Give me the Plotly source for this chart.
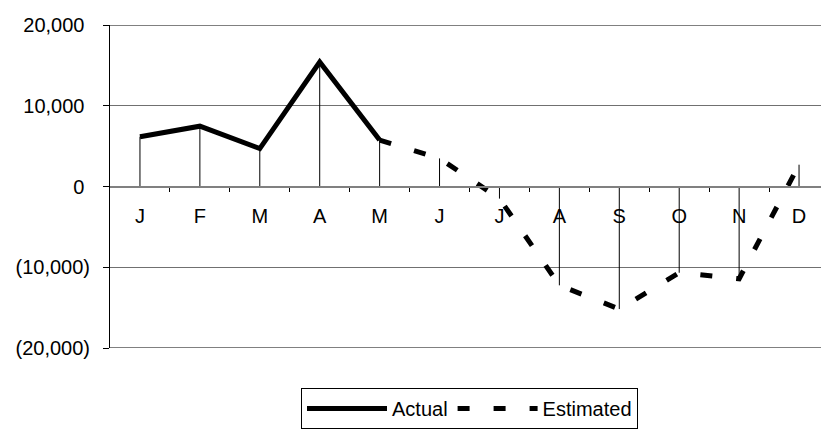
import plotly.graph_objects as go

months = ["J", "F", "M", "A", "M", "J", "J", "A", "S", "O", "N", "D"]
actual = [6170, 7470, 4700, 15420, 5750, None, None, None, None, None, None, None]
estimated = [None, None, None, None, 5750, 3480, -1500, -12240, -15180, -10680, -11420, 2700]
drops = [6170, 7470, 4700, 15420, 5750, 3480, -1500, -12240, -15180, -10680, -11420, 2700]
ytick_vals = [20000, 10000, 0, -10000, -20000]
ytick_text = ["20,000\u00a0", "10,000\u00a0", "0\u00a0", "(10,000)", "(20,000)"]

idx = list(range(len(months)))

# drop lines from each point down/up to zero
dx, dy = [], []
for i, v in zip(idx, drops):
    dx += [i, i, None]
    dy += [0, v, None]

fig = go.Figure()
fig.add_trace(go.Scatter(x=dx, y=dy, mode="lines", line=dict(color="black", width=1),
                         showlegend=False, hoverinfo="skip"))
fig.add_trace(go.Scatter(x=idx, y=actual, mode="lines", name="Actual",
                         line=dict(color="black", width=5)))
fig.add_trace(go.Scatter(x=idx, y=estimated, mode="lines", name="Estimated",
                         line=dict(color="black", width=5, dash="12px,24px")))

# top and bottom border lines of the plot area
for yv in (ytick_vals[0], ytick_vals[-1]):
    fig.add_shape(type="line", xref="paper", x0=0, x1=1, yref="y", y0=yv, y1=yv,
                  line=dict(color="#808080", width=2), layer="below")

# page body has an 8px margin, so the figure is a bit smaller than the window
fig.update_layout(
    width=821, height=422,
    margin=dict(l=102, r=0, t=17, b=82),
    plot_bgcolor="white", paper_bgcolor="white",
    font=dict(family="Liberation Sans, Arial, sans-serif", size=20, color="black"),
    legend=dict(orientation="h", x=0.5, xanchor="center", y=-0.124, yanchor="top",
                bordercolor="black", borderwidth=1, itemwidth=80,
                font=dict(size=20)),
    xaxis=dict(range=[-0.5, 11.5], tickvals=idx, ticktext=months, ticks="",
               anchor="free", position=0.5, showline=True, linecolor="#808080",
               linewidth=2, showgrid=False, zeroline=False, ticklabelstandoff=11,
               minor=dict(tickvals=[i + 0.5 for i in idx[:-1]], ticks="outside",
                          ticklen=4, tickcolor="black", showgrid=False)),
    yaxis=dict(range=[-20000, 20000], tickvals=ytick_vals, ticktext=ytick_text,
               ticks="outside", ticklen=6, tickcolor="black", showline=True,
               linecolor="black", linewidth=1, gridcolor="#707070", gridwidth=1,
               zeroline=False, ticklabelstandoff=9),
)

fig.write_html("out.html")
